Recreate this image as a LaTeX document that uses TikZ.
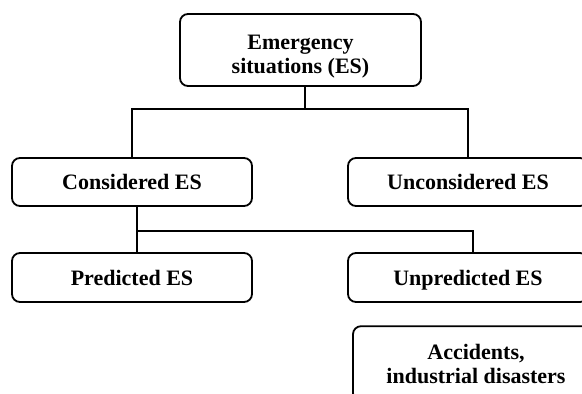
\documentclass[tikz,border=0pt]{standalone}
\usepackage{fontspec}
\setmainfont{Liberation Serif}
\tikzset{
  box/.style={draw, line width=1.8pt, rounded corners=8pt, inner sep=0pt, align=center,
    font=\bfseries\fontsize{22}{24}\selectfont},
  onebox/.style={box, minimum width=240pt, minimum height=48pt, text height=15pt, text depth=0pt},
  link/.style={line width=1.8pt}
}
\begin{document}
\begin{tikzpicture}[x=1pt,y=-1pt]
\useasboundingbox (0,0) rectangle (582,394);
\clip (0,0) rectangle (582,394);
\fill[white] (0,0) rectangle (582,394);
\node[box, minimum width=241pt, minimum height=72pt] (es) at (300.5,50) {\rule{0pt}{27pt}Emergency\\situations (ES)};
\node[onebox] (cons) at (132,182) {Considered ES};
\node[onebox] (uncons) at (468,182) {Unconsidered ES};
\node[onebox, minimum height=49pt] (pred) at (132,277.5) {Predicted ES};
\node[onebox, minimum height=49pt] (unpred) at (468,277.5) {Unpredicted ES};
\node[box, minimum width=246pt, minimum height=75pt] (acc) at (476,363.7) {Accidents,\\industrial disasters};
\draw[link] (cons.north) -- ++(0,-48) coordinate (h1) -| (uncons.north);
\draw[link] ([xshift=4.5pt]es.south) -- ([xshift=4.5pt]es.south |- h1);
\draw[link] ([xshift=5pt]cons.south) -- ([xshift=5pt]pred.north);
\draw[link] ([xshift=5pt]cons.south) ++(0,24) -| ([xshift=5pt]unpred.north);
\end{tikzpicture}
\end{document}
